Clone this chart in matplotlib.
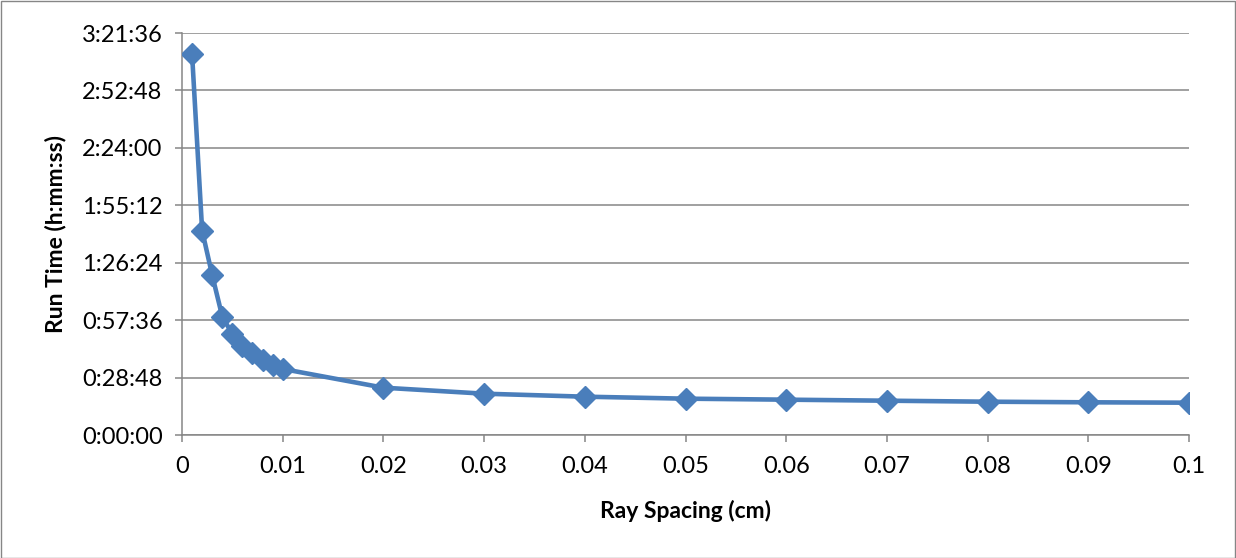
import matplotlib
matplotlib.use("Agg")
import matplotlib.pyplot as plt
from matplotlib.ticker import FuncFormatter, MultipleLocator
from matplotlib.patches import Rectangle

# Ray spacing (cm) and run time (seconds)
ray_spacing = [0.001, 0.002, 0.003, 0.004, 0.005, 0.006, 0.007, 0.008, 0.009, 0.010,
               0.02, 0.03, 0.04, 0.05, 0.06, 0.07, 0.08, 0.09, 0.1]
run_time_s = [11460, 6150, 4807, 3561, 3040, 2679, 2459, 2258, 2107, 1987,
              1424, 1243, 1153, 1093, 1063, 1032, 1002, 984, 972]

x_ticks = [0, 0.01, 0.02, 0.03, 0.04, 0.05, 0.06, 0.07, 0.08, 0.09, 0.1]
x_tick_labels = ["0", "0.01", "0.02", "0.03", "0.04", "0.05", "0.06", "0.07", "0.08", "0.09", "0.1"]

plt.rcParams["font.family"] = ["Lato", "DejaVu Sans"]

fig = plt.figure(figsize=(12.36, 5.58), dpi=100)
ax = fig.add_axes([182 / 1236, 1 - 435 / 558, (1189 - 182) / 1236, (435 - 33) / 558])

line_color = "#4A7EBB"
ax.plot(ray_spacing, run_time_s, color=line_color, lw=3.3, marker="D",
        markersize=11, markerfacecolor=line_color, markeredgecolor=line_color,
        markeredgewidth=1.0, solid_joinstyle="round", zorder=3)

ax.set_xlim(0, 0.1)
ax.set_ylim(0, 12096)
ax.yaxis.set_major_locator(MultipleLocator(1728))


def hms(v, pos):
    v = int(round(v))
    return f"{v // 3600}:{(v % 3600) // 60:02d}:{v % 60:02d}"


ax.yaxis.set_major_formatter(FuncFormatter(hms))
ax.set_xticks(x_ticks)
ax.set_xticklabels(x_tick_labels)

ax.grid(axis="y", color="#868686", lw=1.1)
ax.set_axisbelow(True)
for s in ["top", "right"]:
    ax.spines[s].set_visible(False)
for s in ["left", "bottom"]:
    ax.spines[s].set_color("#868686")
    ax.spines[s].set_linewidth(1.1)

ax.tick_params(axis="both", colors="#868686", labelcolor="black", labelsize=17,
               length=5, width=1.1)
ax.tick_params(axis="x", pad=10)
ax.tick_params(axis="y", pad=9)

ax.set_xlabel("Ray Spacing (cm)", fontsize=16.5, fontweight="bold", va="center")
ax.set_ylabel("Run Time (h:mm:ss)", fontsize=16.5, fontweight="bold", va="center")
ax.xaxis.set_label_coords(0.5, -0.19)
ax.yaxis.set_label_coords(-0.126, 0.5)

# Chart frame
fig.patches.append(Rectangle((0.5 / 1236, 0.5 / 558), 1 - 1.5 / 1236, 1 - 1.5 / 558,
                             transform=fig.transFigure, fill=False,
                             edgecolor="#868686", lw=1.0))

fig.savefig("out.png", dpi=100, facecolor="white")
